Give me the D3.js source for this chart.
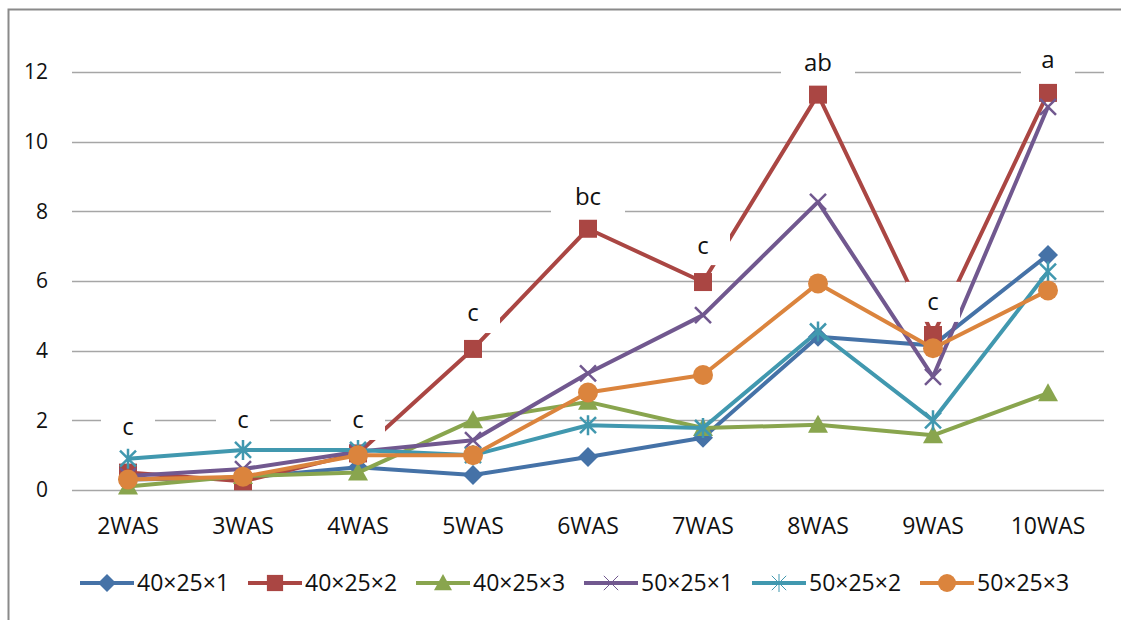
<!DOCTYPE html>
<html>
<head>
<meta charset="utf-8">
<script src="https://cdn.jsdelivr.net/npm/d3@7"></script>
<style>
  body { margin: 0; background: #fff; }
  svg { display: block; }
  text { font-family: "Open Sans", "Liberation Sans", sans-serif; fill: #111; }
</style>
</head>
<body>
<svg width="1121" height="620"></svg>
<script>
// data
const categories = ["2WAS", "3WAS", "4WAS", "5WAS", "6WAS", "7WAS", "8WAS", "9WAS", "10WAS"];
const seriesNames = ["40×25×1", "40×25×2", "40×25×3", "50×25×1", "50×25×2", "50×25×3"];
const s40x25x1 = [0.30, 0.35, 0.65, 0.43, 0.95, 1.50, 4.40, 4.15, 6.75];
const s40x25x2 = [0.50, 0.25, 1.05, 4.05, 7.50, 5.97, 11.35, 4.45, 11.40];
const s40x25x3 = [0.10, 0.40, 0.50, 2.00, 2.53, 1.78, 1.87, 1.57, 2.78];
const s50x25x1 = [0.40, 0.60, 1.10, 1.43, 3.35, 5.02, 8.27, 3.25, 11.00];
const s50x25x2 = [0.90, 1.15, 1.15, 1.00, 1.86, 1.78, 4.55, 2.00, 6.27];
const s50x25x3 = [0.30, 0.38, 1.00, 1.00, 2.80, 3.30, 5.93, 4.07, 5.73];
const yTicks = [0, 2, 4, 6, 8, 10, 12];
// significance letters and the height (in data units) they sit at
const letters = ["c", "c", "c", "c", "bc", "c", "ab", "c", "a"];
const letterLevels = [1.81, 2.01, 2.01, 5.08, 8.41, 7.03, 12.26, 5.40, 12.35];

const colors = ["#4572A7", "#AA4643", "#89A54E", "#71588F", "#4198AF", "#DB843D"];
const markers = ["diamond", "square", "triangle", "x", "star", "circle"];
const allSeries = [s40x25x1, s40x25x2, s40x25x3, s50x25x1, s50x25x2, s50x25x3];

const svg = d3.select("svg");

// outer frame (only top/left visible in the picture)
svg.append("rect")
  .attr("x", 8.5).attr("y", 9.5)
  .attr("width", 1130).attr("height", 640)
  .attr("fill", "none").attr("stroke", "#8a8a8a").attr("stroke-width", 2);

const xScale = d3.scalePoint()
  .domain(categories)
  .range([70.5, 1105.5])
  .padding(0.5);
const yScale = d3.scaleLinear()
  .domain([0, 12])
  .range([490, 72]);

// gridlines
svg.append("g")
  .selectAll("line")
  .data(yTicks)
  .enter()
  .append("line")
  .attr("x1", 72).attr("x2", 1104)
  .attr("y1", d => Math.round(yScale(d)) + 0.5)
  .attr("y2", d => Math.round(yScale(d)) + 0.5)
  .attr("stroke", "#a6a6a6").attr("stroke-width", 1.5);

// y tick labels
svg.append("g")
  .selectAll("text")
  .data(yTicks)
  .enter()
  .append("text")
  .attr("x", 48)
  .attr("y", d => yScale(d))
  .attr("dy", "0.35em")
  .attr("text-anchor", "end")
  .style("font-size", "21px")
  .text(d => d);

// x labels
svg.append("g")
  .selectAll("text")
  .data(categories)
  .enter()
  .append("text")
  .attr("x", d => xScale(d))
  .attr("y", 534)
  .attr("text-anchor", "middle")
  .style("font-size", "23px")
  .text(d => d);

function drawMarker(g, type, color, cx, cy, r, thin) {
  if (type === "diamond") {
    g.append("path")
      .attr("d", `M${cx},${cy - r}L${cx + r},${cy}L${cx},${cy + r}L${cx - r},${cy}Z`)
      .attr("fill", color);
  } else if (type === "square") {
    g.append("rect")
      .attr("x", cx - r * 0.9).attr("y", cy - r * 0.9)
      .attr("width", r * 1.8).attr("height", r * 1.8)
      .attr("fill", color);
  } else if (type === "triangle") {
    g.append("path")
      .attr("d", `M${cx},${cy - r}L${cx + r},${cy + r * 0.8}L${cx - r},${cy + r * 0.8}Z`)
      .attr("fill", color);
  } else if (type === "circle") {
    g.append("circle")
      .attr("cx", cx).attr("cy", cy).attr("r", r)
      .attr("fill", color);
  } else {
    const a = r * 0.8;
    let d = `M${cx - a},${cy - a}L${cx + a},${cy + a}M${cx - a},${cy + a}L${cx + a},${cy - a}`;
    if (type === "star") d += `M${cx},${cy - r}L${cx},${cy + r}`;
    g.append("path")
      .attr("d", d)
      .attr("fill", "none")
      .attr("stroke", color)
      .attr("stroke-width", thin ? 1 : 2.5);
  }
}

const line = d3.line()
  .x((d, i) => xScale(categories[i]))
  .y(d => yScale(d));

allSeries.forEach((vals, k) => {
  const g = svg.append("g");
  g.append("path")
    .datum(vals)
    .attr("d", line)
    .attr("fill", "none")
    .attr("stroke", colors[k])
    .attr("stroke-width", 4)
    .attr("stroke-linejoin", "round");
  vals.forEach((v, i) => {
    drawMarker(g, markers[k], colors[k], xScale(categories[i]), yScale(v), 10, false);
  });
});

// letter labels with white boxes
const lab = svg.append("g");
letters.forEach((t, i) => {
  const cx = xScale(categories[i]);
  const cy = yScale(letterLevels[i]);
  const w = t.length > 1 ? 74 : 54;
  lab.append("rect")
    .attr("x", cx - w / 2).attr("y", cy - 20)
    .attr("width", w).attr("height", 40)
    .attr("fill", "#fff");
  lab.append("text")
    .attr("x", cx).attr("y", cy)
    .attr("dy", "0.35em")
    .attr("text-anchor", "middle")
    .style("font-size", "24px")
    .text(t);
});

// legend
const legend = svg.append("g");
seriesNames.forEach((name, k) => {
  const x0 = 80 + k * 168;
  const y0 = 583;
  legend.append("line")
    .attr("x1", x0).attr("x2", x0 + 54)
    .attr("y1", y0).attr("y2", y0)
    .attr("stroke", colors[k]).attr("stroke-width", 4);
  drawMarker(legend, markers[k], colors[k], x0 + 27, y0, 9, true);
  legend.append("text")
    .attr("x", x0 + 57).attr("y", y0)
    .attr("dy", "0.35em")
    .style("font-size", "23px")
    .text(name);
});
</script>
</body>
</html>
